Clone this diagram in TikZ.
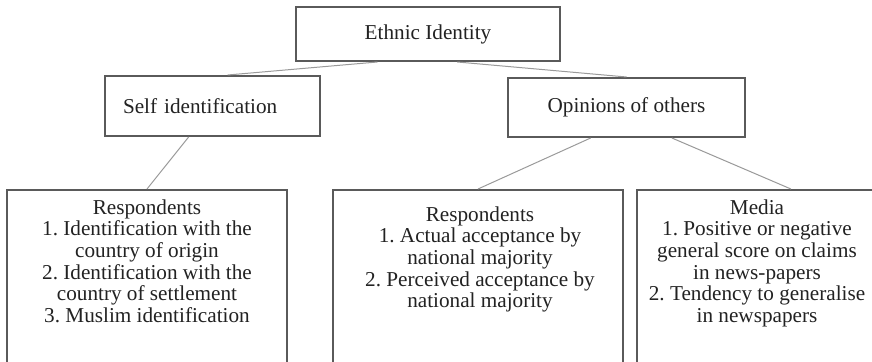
\documentclass[tikz,border=0pt]{standalone}
\usepackage{fontspec}
\setmainfont{Liberation Serif}
\usepackage{xcolor}
\usepackage{tikz}
\usetikzlibrary{calc}
\frenchspacing
\definecolor{marco}{HTML}{5A5A5A}
\definecolor{enlace}{HTML}{9A9A9A}
\definecolor{letra}{HTML}{222222}
\tikzset{
  caja/.style     = {draw=marco, line width=1pt, fill=white, inner sep=0pt},
  texto/.style    = {text=letra, font=\fontsize{10.6}{10.85}\selectfont, align=center, inner sep=0pt},
  enlace/.style   = {draw=enlace, line width=0.5pt}
}

\begin{document}
\begin{tikzpicture}[x=0.5pt, y=-0.5pt]
  \useasboundingbox (0,0) rectangle (872,362);
  \clip (0,0) rectangle (872,362);
  % upper levels
  \node[caja, texto, minimum width=132pt, minimum height=27pt] (ethnic) at (428,34) {Ethnic Identity};
  \node[caja, texto, align=left, text width=89.5pt, inner xsep=9pt, minimum height=30pt] (self) at (212.5,106) {Self identification};
  \node[caja, texto, minimum width=118.5pt, minimum height=29.5pt] (opinions) at (626.5,107.5) {Opinions of others};
  % lower boxes (cut at the bottom edge)
  \node[caja, minimum width=140pt, minimum height=110pt, anchor=north] (resp1) at (147,189) {};
  \node[caja, minimum width=145pt, minimum height=110pt, anchor=north] (resp2) at (478,189) {};
  \node[caja, minimum width=120pt, minimum height=110pt, anchor=north] (media) at (757,189) {};
  \node[texto, anchor=north] (resp1txt) at (147,199) {Respondents\\1. Identification with the\\country of origin\\2. Identification with the\\country of settlement\\3. Muslim identification};
  \node[texto, anchor=north] (resp2txt) at (480,206) {Respondents\\1. Actual acceptance by\\national majority\\2. Perceived acceptance by\\national majority};
  \node[texto, anchor=north] (mediatxt) at (757,199) {Media\\1. Positive or negative\\general score on claims\\in news-papers\\2. Tendency to generalise\\in newspapers};
  % links
  \draw[enlace] ($(ethnic.south west)!0.31!(ethnic.south east)$) -- ($(self.north west)!0.57!(self.north east)$);
  \draw[enlace] ($(ethnic.south west)!0.61!(ethnic.south east)$) -- (opinions.north);
  \draw[enlace] ($(self.south west)!0.39!(self.south east)$) -- (resp1.north);
  \draw[enlace] ($(opinions.south west)!0.35!(opinions.south east)$) -- (resp2.north);
  \draw[enlace] ($(opinions.south west)!0.69!(opinions.south east)$) -- ($(media.north west)!0.64!(media.north east)$);
\end{tikzpicture}
\end{document}
